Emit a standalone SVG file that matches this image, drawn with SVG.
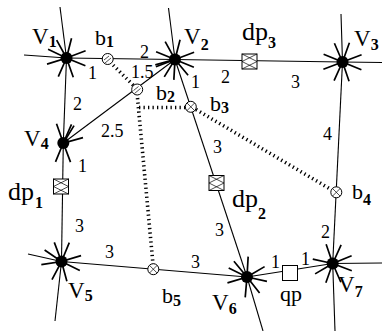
<svg xmlns="http://www.w3.org/2000/svg" width="382" height="331" viewBox="0 0 382 331">
<defs>
<marker id="ah" markerUnits="userSpaceOnUse" viewBox="-22 -10 24 20" refX="0" refY="0" markerWidth="24" markerHeight="20" orient="auto-start-reverse" overflow="visible">
<path d="M-19,-7.5 L0,0 L-19,7.5" fill="none" stroke="#000" stroke-width="1.7"/>
</marker>
<style>
.e{fill:none;stroke:#000;stroke-width:1.1;marker-start:url(#ah);marker-end:url(#ah)}
.st{fill:none;stroke:#000;stroke-width:1.1;marker-end:url(#ah)}
.dot{fill:none;stroke:#000;stroke-width:3.6;stroke-dasharray:1.3 3.2}
.v{fill:#000}
.t{font-family:"Liberation Serif","Times New Roman",serif;fill:#000}
.L{font-size:22px}
.VV{font-size:23px}
.D{font-size:26px}
.n{font-size:18px}
.s{font-size:16px;font-weight:bold}
.bc{fill:#fff;stroke:#000;stroke-width:1}
.bx{fill:#fff;stroke:#000;stroke-width:1}
.pat{fill:none;stroke:#000;stroke-width:0.7}
</style>
</defs>

<g id="connectors">
<path class="e" d="M66.5,58 L175,59.5"/>
<path class="e" d="M66.5,58 L63.3,143"/>
<path class="e" d="M175,59.5 L63.3,143"/>
<path class="e" d="M175,59.5 L342.5,62"/>
<path class="e" d="M175,59.5 L247,277"/>
<path class="e" d="M342.5,62 L332.7,263.5"/>
<path class="e" d="M63.3,143 L61.5,261.5"/>
<path class="e" d="M61.5,261.5 L247,277"/>
<path class="e" d="M332.7,263.5 L247,277"/>
<path class="st" d="M24,55 L66.5,58"/>
<path class="st" d="M60,7 L66.5,58"/>
<path class="st" d="M168.5,8 L175,59.5"/>
<path class="st" d="M341,14 L342.5,62"/>
<path class="st" d="M382,62.5 L342.5,62"/>
<path class="st" d="M28,254 L61.5,261.5"/>
<path class="st" d="M55,321 L61.5,261.5"/>
<path class="st" d="M263,331 L247,277"/>
<path class="st" d="M382,263 L332.7,263.5"/>
<path class="st" d="M335,331 L332.7,263.5"/>
<path class="dot" d="M110,62 L134,86"/>
<path class="dot" d="M137.5,98 L153,264"/>
<path class="dot" d="M139,107.5 L186,107.5"/>
<path class="dot" d="M196,109.5 L331,189.5"/>
</g>

<g id="V1"><circle class="v" cx="66.5" cy="58" r="6"/><text class="t VV" x="32" y="44">V<tspan class="s" dy="3">1</tspan></text></g>
<g id="V2"><circle class="v" cx="175" cy="59.5" r="6"/><text class="t VV" x="184" y="44">V<tspan class="s" dy="6">2</tspan></text></g>
<g id="V3"><circle class="v" cx="342.5" cy="62" r="6"/><text class="t VV" x="354" y="46">V<tspan class="s" dy="4">3</tspan></text></g>
<g id="V4"><circle class="v" cx="63.3" cy="143" r="6"/><text class="t VV" x="24" y="146">V<tspan class="s" dy="3">4</tspan></text></g>
<g id="V5"><circle class="v" cx="61.5" cy="261.5" r="6"/><text class="t VV" x="68" y="298">V<tspan class="s" dy="3">5</tspan></text></g>
<g id="V6"><circle class="v" cx="247" cy="277" r="6"/><text class="t VV" x="212" y="310">V<tspan class="s" dy="4">6</tspan></text></g>
<g id="V7"><circle class="v" cx="332.7" cy="263.5" r="6"/><text class="t VV" x="338" y="292">V<tspan class="s" dy="5">7</tspan></text></g>

<g id="b1"><circle class="bc" cx="107.7" cy="59" r="5.5"/><path class="pat" d="M104,60 L109,56 M105,63 L111,58"/><text class="t L" x="95" y="45">b<tspan class="s" dy="2">1</tspan></text></g>
<g id="b2"><circle class="bc" cx="137.2" cy="89.5" r="5.5"/><path class="pat" d="M133.5,90.5 L138.5,86.5 M134.5,93.5 L140.5,88.5"/><text class="t L" x="156" y="100">b<tspan class="s" dy="2">2</tspan></text></g>
<g id="b3"><circle class="bc" cx="190.8" cy="106.8" r="5.5"/><path class="pat" d="M187,103 L194.6,110.6 M194.6,103 L187,110.6"/><text class="t L" x="210" y="111">b<tspan class="s" dy="2">3</tspan></text></g>
<g id="b4"><circle class="bc" cx="336.3" cy="192.3" r="5.5"/><path class="pat" d="M332.5,188.5 L340.1,196.1 M340.1,188.5 L332.5,196.1"/><text class="t L" x="352" y="199">b<tspan class="s" dy="6">4</tspan></text></g>
<g id="b5"><circle class="bc" cx="153.3" cy="269.2" r="5.5"/><path class="pat" d="M149.5,265.4 L157.1,273 M157.1,265.4 L149.5,273"/><text class="t L" x="162" y="303">b<tspan class="s" dy="3">5</tspan></text></g>

<g id="dp1"><rect class="bx" x="53.5" y="179" width="15" height="15"/><path class="pat" d="M53.5,179 L68.5,186.5 L53.5,194 M68.5,179 L53.5,186.5 L68.5,194"/><text class="t D" x="8" y="200">dp<tspan class="s" dy="8" dx="1">1</tspan></text></g>
<g id="dp2"><rect class="bx" x="209" y="175.5" width="15" height="15"/><path class="pat" d="M209,175.5 L224,183 L209,190.5 M224,175.5 L209,183 L224,190.5"/><text class="t D" x="232" y="207">dp<tspan class="s" dy="12">2</tspan></text></g>
<g id="dp3"><rect class="bx" x="242" y="54" width="15" height="15"/><path class="pat" d="M242,54 L257,61.5 L242,69 M257,54 L242,61.5 L257,69"/><text class="t D" x="242" y="40">dp<tspan class="s" dy="8">3</tspan></text></g>
<g id="qp"><rect class="bx" x="282.5" y="265.5" width="15" height="15"/><text class="t L" x="280" y="301">qp</text></g>

<g id="weights" class="t n">
<text x="140" y="58">2</text>
<text x="88" y="79">1</text>
<text x="131" y="78">1.5</text>
<text x="73" y="110">2</text>
<text x="101" y="137">2.5</text>
<text x="191" y="88">1</text>
<text x="221" y="83">2</text>
<text x="291" y="88">3</text>
<text x="213" y="153">3</text>
<text x="323" y="140">4</text>
<text x="78" y="172">1</text>
<text x="75" y="232">3</text>
<text x="105" y="258">3</text>
<text x="191" y="268">3</text>
<text x="215" y="236">3</text>
<text x="321" y="238">2</text>
<text x="271" y="268">1</text>
<text x="301" y="265">1</text>
</g>
</svg>
